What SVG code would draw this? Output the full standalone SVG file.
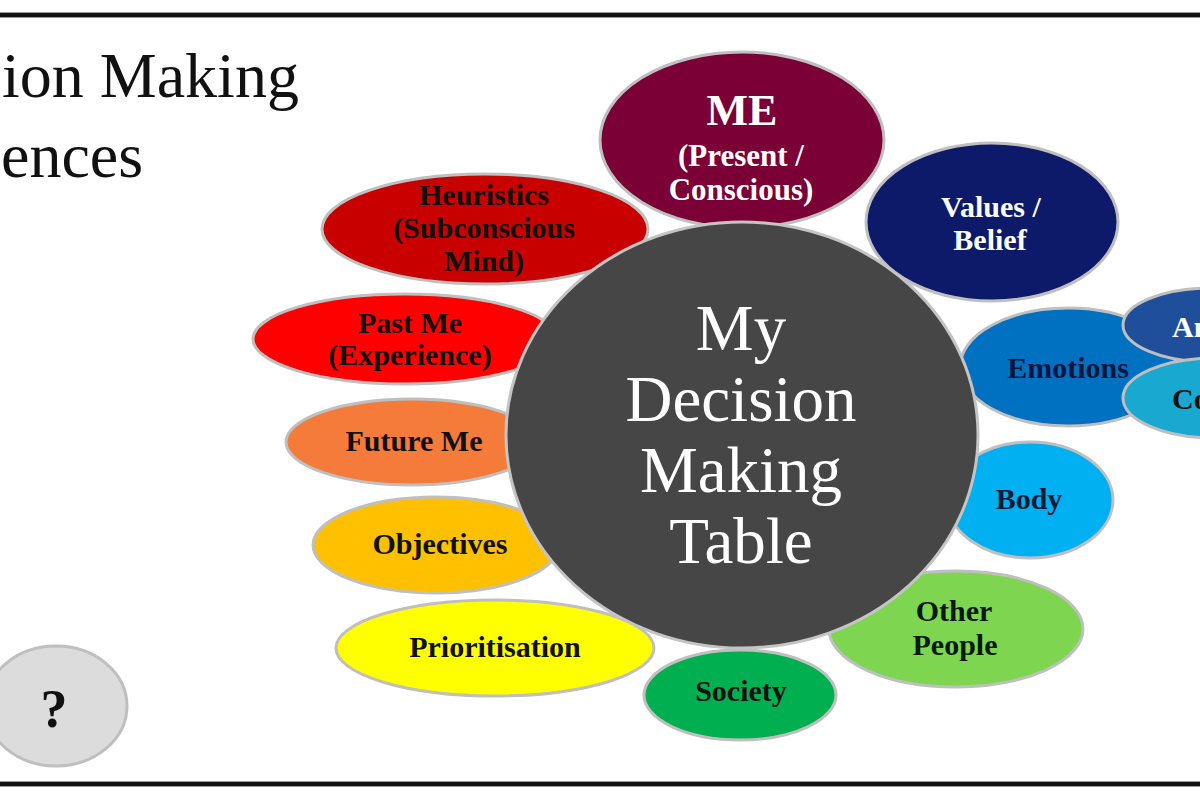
<svg xmlns="http://www.w3.org/2000/svg" width="1200" height="800" viewBox="0 0 1200 800">
<style>
.bub{stroke:#bfbfbf;stroke-width:3}
.lbl{font-family:"Liberation Serif","DejaVu Serif",serif;font-weight:bold;font-size:30px;text-anchor:middle;fill:#111}
.wht{fill:#ffffff}
.ttl{font-family:"Liberation Serif","DejaVu Serif",serif;font-size:64px;fill:#111;text-anchor:start}
.ctr{font-family:"Liberation Serif","DejaVu Serif",serif;font-size:65px;fill:#ffffff;text-anchor:middle}
</style>
<rect width="1200" height="800" fill="#ffffff"/>
<g id="frame">
<line x1="0" y1="15" x2="1200" y2="15" stroke="#9a9a9a" stroke-width="6"/>
<line x1="0" y1="15" x2="1200" y2="15" stroke="#111" stroke-width="4"/>
<line x1="0" y1="784" x2="1200" y2="784" stroke="#9a9a9a" stroke-width="6"/>
<line x1="0" y1="784" x2="1200" y2="784" stroke="#111" stroke-width="4"/>
</g>
<g id="title">
<text class="ttl" x="2" y="97">ion Making</text>
<text class="ttl" x="1" y="177">ences</text>
</g>
<g id="connectors"/>
<g id="question">
<ellipse class="bub" cx="56" cy="706" rx="71" ry="60" fill="#dcdcdc"/>
<text class="lbl" x="54" y="727" style="font-size:54px">?</text>
</g>
<g id="prioritisation">
<ellipse class="bub" cx="495" cy="648" rx="159" ry="48" fill="#ffff00"/>
<text class="lbl" x="495" y="657">Prioritisation</text>
</g>
<g id="society">
<ellipse class="bub" cx="740" cy="695" rx="96" ry="45" fill="#00b050"/>
<text class="lbl" x="741" y="701">Society</text>
</g>
<g id="other-people">
<ellipse class="bub" cx="956" cy="629" rx="127" ry="58" fill="#7ed650"/>
<text class="lbl" x="954" y="621" style="fill:#0a1a0a">Other</text>
<text class="lbl" x="955" y="655" style="fill:#0a1a0a">People</text>
</g>
<g id="objectives">
<ellipse class="bub" cx="436" cy="545" rx="123" ry="48" fill="#ffc000"/>
<text class="lbl" x="440" y="554">Objectives</text>
</g>
<g id="future-me">
<ellipse class="bub" cx="412" cy="442" rx="126" ry="43" fill="#f47b3a"/>
<text class="lbl" x="414" y="451">Future Me</text>
</g>
<g id="past-me">
<ellipse class="bub" cx="405" cy="339" rx="152" ry="45" fill="#ff0000"/>
<text class="lbl" x="410" y="333">Past Me</text>
<text class="lbl" x="410" y="365">(Experience)</text>
</g>
<g id="heuristics">
<ellipse class="bub" cx="485" cy="229" rx="163" ry="55" fill="#c80000"/>
<text class="lbl" x="484" y="205">Heuristics</text>
<text class="lbl" x="484" y="238">(Subconscious</text>
<text class="lbl" x="484" y="271">Mind)</text>
</g>
<g id="me">
<ellipse class="bub" cx="742" cy="140" rx="142" ry="88" fill="#7a0036"/>
<text class="lbl wht" x="742" y="125" style="font-size:44px">ME</text>
<text class="lbl wht" x="741" y="166" style="font-size:31px">(Present /</text>
<text class="lbl wht" x="741" y="200" style="font-size:31px">Conscious)</text>
</g>
<g id="values-belief">
<ellipse class="bub" cx="992" cy="222" rx="126" ry="79" fill="#0d1a6a"/>
<text class="lbl wht" x="991" y="217" style="font-size:30px">Values /</text>
<text class="lbl wht" x="990" y="250" style="font-size:30px">Belief</text>
</g>
<g id="emotions">
<ellipse class="bub" cx="1068" cy="367" rx="108" ry="59" fill="#0070c0"/>
<text class="lbl" x="1068" y="378" style="fill:#0a1640">Emotions</text>
</g>
<g id="an">
<ellipse class="bub" cx="1210" cy="325" rx="87" ry="37" fill="#1f4f9b"/>
<text class="lbl wht" x="1172" y="337" style="text-anchor:start">An</text>
</g>
<g id="co">
<ellipse class="bub" cx="1215" cy="398" rx="92" ry="40" fill="#19a8d0"/>
<text class="lbl" x="1172" y="409" style="text-anchor:start">Co</text>
</g>
<g id="body">
<ellipse class="bub" cx="1030" cy="500" rx="83" ry="58" fill="#00b0f0"/>
<text class="lbl" x="1029" y="509" style="fill:#0a1a3a">Body</text>
</g>
<g id="decision-table">
<ellipse cx="742" cy="435" rx="236" ry="213" fill="#464646" stroke="#c4c4c4" stroke-width="3"/>
<text class="ctr" x="741" y="350">My</text>
<text class="ctr" x="741" y="421">Decision</text>
<text class="ctr" x="741" y="492">Making</text>
<text class="ctr" x="741" y="563">Table</text>
</g>
</svg>
